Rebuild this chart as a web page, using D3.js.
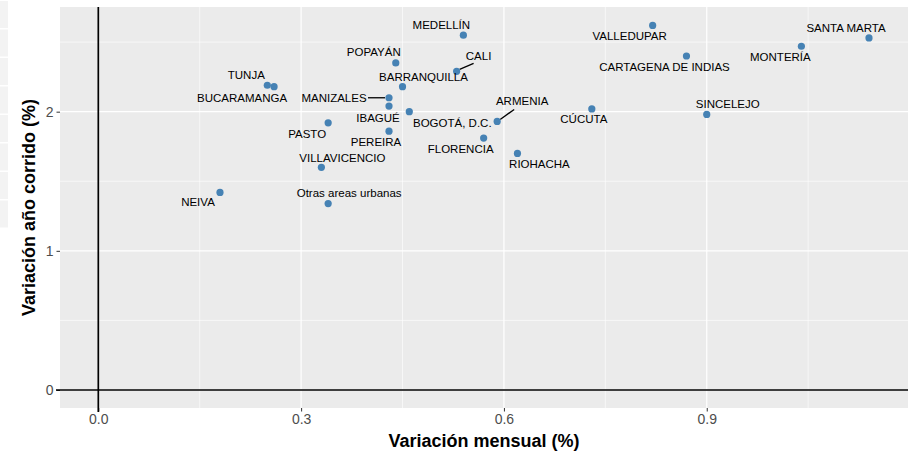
<!DOCTYPE html>
<meta charset="utf-8">
<style>
    body { margin: 0; background: #fff; }
    text { font-family: "Liberation Sans", Arial, sans-serif; }
</style>
<svg width="916" height="455"></svg>
<script src="https://cdn.jsdelivr.net/npm/d3@7"></script>
<script>
    // data
    var ciudades = ["MEDELLÍN", "VALLEDUPAR", "SANTA MARTA", "MONTERÍA", "CARTAGENA DE INDIAS",
        "CALI", "POPAYÁN", "TUNJA", "BUCARAMANGA", "BARRANQUILLA", "MANIZALES", "IBAGUÉ",
        "BOGOTÁ, D.C.", "PASTO", "PEREIRA", "FLORENCIA", "RIOHACHA", "CÚCUTA", "ARMENIA",
        "SINCELEJO", "VILLAVICENCIO", "Otras areas urbanas", "NEIVA"]
    var mensual = [0.54, 0.82, 1.14, 1.04, 0.87,
        0.53, 0.44, 0.25, 0.26, 0.45, 0.43, 0.43,
        0.46, 0.34, 0.43, 0.57, 0.62, 0.73, 0.59,
        0.90, 0.33, 0.34, 0.18]
    var anioCorrido = [2.55, 2.62, 2.53, 2.47, 2.40,
        2.29, 2.35, 2.19, 2.18, 2.18, 2.10, 2.04,
        2.00, 1.92, 1.86, 1.81, 1.70, 2.02, 1.93,
        1.98, 1.60, 1.34, 1.42]
    var xTicks = [0.0, 0.3, 0.6, 0.9]
    var yTicks = [0, 1, 2]

    // label placement (pixel offsets from the point, like ggrepel left them)
    var labelDx = [-22, -23, -23, -21, -22, 22, -22, -21, -32, 21, -55, -11, 43, -21, -13, -23, 22, -8, 25, 21, 21, 21, -22]
    var labelDy = [-10, 11, -10, 11, 11, -15, -11, -10, 11, -10, 0, 12, 11, 11, 11, 11, 11, 10, -20, -10, -9, -11, 10]
    var conLinea = ["CALI", "MANIZALES", "ARMENIA"]

    var svg = d3.select("svg")
    var m = { left: 60, right: 8, top: 7, bottom: 47 }
    var width = 916, height = 455

    // faint strip on the left edge of the screenshot
    for (let i = 0; i < 8; i++) {
        svg.append("rect").attr("x", 0).attr("y", i * 28.5 + 1).attr("width", 8).attr("height", 27)
            .attr("fill", "#f3f3f3")
    }

    var x = d3.scaleLinear().domain([0, 1.14]).range([98.3, 869])
    var y = d3.scaleLinear().domain([0, 2.62]).range([390, 25.4])

    var x0 = m.left, x1 = width - m.right, y0 = m.top, y1 = height - m.bottom

    svg.append("rect").attr("x", x0).attr("y", y0).attr("width", x1 - x0).attr("height", y1 - y0)
        .attr("fill", "#EBEBEB")

    var g = svg.append("g")
    // minor grid
    var xMinor = [0.15, 0.45, 0.75, 1.05], yMinor = [0.5, 1.5, 2.5]
    g.selectAll(".xm").data(xMinor).join("line")
        .attr("x1", d => x(d)).attr("x2", d => x(d)).attr("y1", y0).attr("y2", y1)
        .attr("stroke", "#fff").attr("stroke-width", 0.6)
    g.selectAll(".ym").data(yMinor).join("line")
        .attr("y1", d => y(d)).attr("y2", d => y(d)).attr("x1", x0).attr("x2", x1)
        .attr("stroke", "#fff").attr("stroke-width", 0.6)
    // major grid
    g.selectAll(".xg").data(xTicks).join("line")
        .attr("x1", d => x(d)).attr("x2", d => x(d)).attr("y1", y0).attr("y2", y1)
        .attr("stroke", "#fff").attr("stroke-width", 1.2)
    g.selectAll(".yg").data(yTicks).join("line")
        .attr("y1", d => y(d)).attr("y2", d => y(d)).attr("x1", x0).attr("x2", x1)
        .attr("stroke", "#fff").attr("stroke-width", 1.2)

    // axes
    var xAxis = svg.append("g").attr("transform", `translate(0,${y1})`)
        .call(d3.axisBottom(x).tickValues(xTicks).tickFormat(d3.format(".1f")).tickSize(3.5).tickPadding(3))
    var yAxis = svg.append("g").attr("transform", `translate(${x0},0)`)
        .call(d3.axisLeft(y).tickValues(yTicks).tickFormat(d3.format("d")).tickSize(3.5).tickPadding(3))
    for (const a of [xAxis, yAxis]) {
        a.select(".domain").remove()
        a.selectAll("line").attr("stroke", "#333")
        a.selectAll("text").attr("fill", "#4D4D4D").style("font-size", "14px")
    }

    // reference lines at zero
    svg.append("line").attr("x1", x(0)).attr("x2", x(0)).attr("y1", y0).attr("y2", y1 + 4)
        .attr("stroke", "#000").attr("stroke-width", 1.7)
    svg.append("line").attr("x1", x0 - 4).attr("x2", x1).attr("y1", y(0)).attr("y2", y(0))
        .attr("stroke", "#000").attr("stroke-width", 1.7)

    var datos = ciudades.map((c, i) => ({ c: c, vx: mensual[i], vy: anioCorrido[i], dx: labelDx[i], dy: labelDy[i] }))

    // segments
    svg.append("g").selectAll("line").data(datos.filter(d => conLinea.includes(d.c))).join("line")
        .attr("x1", d => x(d.vx) + (d.dx < 0 ? -4 : 3))
        .attr("y1", d => y(d.vy) + (d.dy < 0 ? -2 : 0))
        .attr("x2", d => x(d.vx) + (d.dx > 30 ? 18 : d.dx < -30 ? -21 : 17))
        .attr("y2", d => y(d.vy) + (d.dx > 30 ? 0 : d.dy < -16 ? -12 : d.dy < 0 ? -8 : 0))
        .attr("stroke", "#000").attr("stroke-width", 1.3)

    // points
    svg.append("g").selectAll("circle").data(datos).join("circle")
        .attr("cx", d => x(d.vx)).attr("cy", d => y(d.vy)).attr("r", 3.6)
        .attr("fill", "steelblue")

    // labels
    svg.append("g").selectAll("text").data(datos).join("text")
        .attr("x", d => x(d.vx) + d.dx).attr("y", d => y(d.vy) + d.dy)
        .attr("text-anchor", "middle").attr("dominant-baseline", "central")
        .style("font-size", "11.5px").attr("fill", "#000")
        .text(d => d.c)

    // titles
    svg.append("text").attr("x", (x0 + x1) / 2).attr("y", 447)
        .attr("text-anchor", "middle").style("font-size", "18px").style("font-weight", "bold")
        .text("Variación mensual (%)")
    svg.append("text").attr("transform", `translate(35,${(y0 + y1) / 2}) rotate(-90)`)
        .attr("text-anchor", "middle").style("font-size", "18px").style("font-weight", "bold")
        .text("Variación año corrido (%)")
</script>
